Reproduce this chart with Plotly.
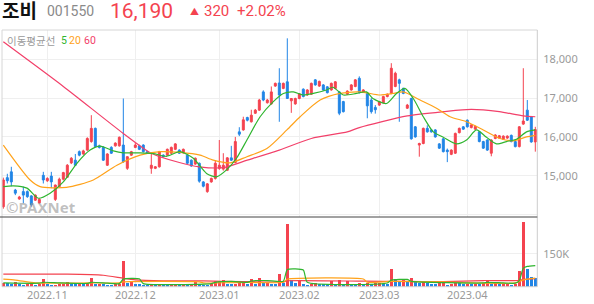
import plotly.graph_objects as go

# ---------------- data ----------------
opens = [14200, 14950, 15100, 14630, 14400, 14590, 14590, 14480, 14370, 14300,
         15010, 14870, 14990, 14390, 14720, 14910, 14960, 15330, 15400, 15620,
         15560, 15660, 15880, 16220, 15770, 15730, 15270, 15730, 15770, 15770,
         15790, 15190, 15530, 15730, 15770, 15790, 15620, 15190, 15190, 15230,
         15530, 15530, 15580, 15680, 15660, 15590, 15530, 15400, 15300, 15320,
         14840, 14590, 14840, 14930, 15190, 15170, 15140, 15460, 15340, 16130,
         16180, 16500, 16390, 16610, 16690, 17160, 16880, 16850, 17310, 17390,
         17250, 17420, 16930, 16850, 16990, 17230, 17080, 17100, 17470, 17310,
         17340, 17290, 17210, 17250, 17160, 16910, 17100, 17210, 17300, 17510,
         17150, 17120, 16950, 16760, 16820, 16880, 17040, 17120, 17300, 17470,
         17250, 16740, 16990, 16260, 15790, 15830, 16220, 16180, 16180, 15820,
         15950, 15660, 15550, 15580, 16110, 16260, 16430, 16240, 16200, 16130,
         15880, 15920, 15580, 15960, 15970, 15940, 15970, 16040, 15880, 15750,
         16330, 16690, 16520, 15870]
highs = [14950, 15050, 15230, 14660, 14480, 14720, 14620, 14500, 14520, 14420,
         15100, 14960, 15100, 14770, 14950, 15100, 15300, 15480, 15560, 15650,
         15670, 15990, 16560, 16240, 15800, 15760, 15580, 15760, 15860, 16010,
         16990, 15500, 15640, 15840, 15800, 15810, 15640, 15580, 15250, 15640,
         15550, 15700, 15750, 15840, 15680, 15700, 15550, 15420, 15470, 15340,
         14860, 14810, 14950, 15400, 15920, 15580, 15480, 15770, 16000, 16250,
         16520, 16520, 16700, 16720, 16980, 17200, 16980, 17300, 17400, 17770,
         17400, 18540, 17000, 17010, 17130, 17250, 17230, 17400, 17490, 17450,
         17360, 17310, 17400, 17440, 17180, 16930, 17200, 17360, 17490, 17560,
         17230, 17140, 17000, 16820, 16930, 17060, 17120, 17900, 17680, 17500,
         17270, 16850, 17010, 16280, 15850, 16240, 16300, 16200, 16200, 15840,
         15970, 15700, 15680, 16110, 16240, 16280, 16450, 16330, 16290, 16150,
         15900, 15940, 15940, 16070, 16050, 16040, 16040, 16060, 15900, 16280,
         17770, 16950, 16540, 16260]
lows = [14150, 14800, 14730, 14500, 14380, 14290, 14430, 14200, 14350, 14280,
        14800, 14840, 14680, 14350, 14700, 14880, 14940, 15300, 15250, 15500,
        15540, 15640, 15850, 15730, 15700, 15380, 15250, 15560, 15750, 15750,
        15330, 15150, 15510, 15710, 15660, 15600, 15560, 15050, 15170, 15210,
        15470, 15510, 15560, 15660, 15560, 15570, 15300, 15230, 15280, 14820,
        14700, 14560, 14820, 14900, 15150, 15130, 15120, 15380, 15320, 16020,
        16160, 16400, 16370, 16590, 16670, 16920, 16860, 16830, 17290, 16390,
        17230, 16990, 16620, 16830, 16970, 17020, 17060, 17080, 17320, 17290,
        17190, 17120, 17190, 17230, 16560, 16630, 17080, 17190, 17280, 17120,
        17130, 16480, 16600, 16600, 16800, 16860, 17020, 17100, 17280, 16390,
        17100, 16720, 15930, 15980, 15490, 15810, 16110, 16110, 15980, 15690,
        15600, 15350, 15530, 15560, 16090, 16180, 16240, 16220, 16180, 15860,
        15690, 15640, 15500, 15940, 15950, 15920, 15950, 15860, 15730, 15730,
        16310, 16410, 15850, 15620]
closes = [14890, 14870, 14840, 14550, 14450, 14500, 14460, 14250, 14500, 14390,
          14890, 14930, 14840, 14760, 14910, 15080, 15270, 15450, 15270, 15530,
          15640, 15960, 16220, 15750, 15730, 15400, 15560, 15580, 15840, 15990,
          15360, 15490, 15620, 15790, 15680, 15620, 15580, 15270, 15230, 15620,
          15490, 15680, 15730, 15820, 15580, 15680, 15320, 15250, 15450, 14860,
          14730, 14790, 14930, 15320, 15270, 15270, 15460, 15400, 15880, 16070,
          16440, 16430, 16560, 16690, 16950, 16950, 16950, 17160, 17380, 17080,
          17380, 16990, 16990, 16990, 17110, 17040, 17210, 17380, 17340, 17430,
          17210, 17140, 17380, 17420, 16610, 16650, 17180, 17340, 17470, 17140,
          17210, 16800, 16650, 16700, 16910, 17040, 17100, 17770, 17640, 17380,
          17120, 16820, 15950, 16000, 15830, 16220, 16130, 16130, 16000, 15710,
          15620, 15620, 15660, 16090, 16220, 16200, 16260, 16310, 16270, 15880,
          15710, 15660, 15920, 16050, 16030, 16020, 16020, 15880, 15750, 16260,
          16410, 16430, 15870, 16190]
volumes = [20000, 18000, 16000, 22000, 14000, 12000, 13000, 15000, 12000, 13000,
           37000, 13000, 12000, 12000, 13000, 14000, 23000, 14000, 13000, 14000,
           13000, 14000, 41000, 14000, 15000, 14000, 12000, 11000, 13000, 14000,
           118000, 17000, 23000, 14000, 13000, 12000, 11000, 12000, 11000, 13000,
           12000, 11000, 12000, 13000, 11000, 12000, 11000, 12000, 23000, 14000,
           12000, 11000, 13000, 26000, 28000, 31000, 15000, 14000, 16000, 17000,
           26000, 15000, 35000, 16000, 44000, 18000, 20000, 16000, 15000, 58000,
           18000, 288000, 31000, 18000, 26000, 14000, 10000, 15000, 17000, 16000,
           15000, 13000, 26000, 14000, 31000, 16000, 26000, 15000, 13000, 17000,
           16000, 18000, 16000, 17000, 18000, 16000, 15000, 84000, 35000, 27000,
           33000, 25000, 40000, 22000, 20000, 24000, 18000, 16000, 15000, 17000,
           18000, 12000, 15000, 18000, 17000, 14000, 16000, 15000, 16000, 15000,
           17000, 31000, 16000, 18000, 14000, 15000, 16000, 12000, 15000, 72000,
           294000, 81000, 45000, 41000]

month_idx = [11, 33, 54, 74, 94, 116]
month_labels = ['2022.11', '2022.12', '2023.01', '2023.02', '2023.03', '2023.04']

price_ticks = [14000, 15000, 16000, 17000, 18000]
price_tick_text = ['', '15,000', '16,000', '17,000', '18,000']
vol_ticks = [150000]
vol_tick_text = ['150K']

ma5_i = [0, 2.5, 5.9, 8.75, 11.7, 15, 18.4, 21.7, 24.2, 27.5, 30, 34.2, 37.5, 40.8, 44.2,
         47.5, 50.8, 53.3, 55.8, 58.3, 60.9, 64.2, 67.5, 70, 72.5, 75, 77.5, 80.8, 82.4,
         85, 88.3, 90.8, 92.4, 95.8, 98.3, 100.4, 102.5, 105, 107.5, 110, 113.3, 115.8,
         118.3, 120.8, 123.3, 125.8, 128.3, 130.8, 133]
ma5_v = [14720, 14740, 14680, 14420, 14550, 14840, 15320, 15660, 15760, 15640, 15590, 15590,
         15570, 15500, 15620, 15450, 15060, 14970, 15150, 15450, 15920, 16520, 16910, 17120,
         17160, 17080, 17120, 17210, 17280, 17080, 17120, 17160, 16990, 16860, 17120, 17250,
         16990, 16520, 16130, 15990, 15820, 15920, 16180, 15990, 15820, 15880, 15940, 16130,
         16180]
ma20_i = [0, 6.7, 9.2, 15.8, 22.5, 28.4, 34.2, 39.2, 44.2, 49.2, 52.5, 56.7, 60.9, 65.9,
          70.9, 74.2, 79.2, 84.2, 89.2, 94.2, 97.4, 100, 104.2, 108.3, 111.7, 115.8, 120,
          124.2, 127.5, 130.8, 133]
ma20_v = [15790, 14890, 14720, 14700, 14890, 15270, 15530, 15620, 15600, 15530, 15400,
          15330, 15490, 15700, 16180, 16520, 16950, 17120, 17160, 17080, 17120, 17160,
          16950, 16740, 16520, 16390, 16180, 15960, 15900, 16000, 16040]
ma60_i = [0, 15, 30, 37, 44, 49, 55, 61, 69, 77, 86, 89, 101, 110, 117, 124, 130, 133]
ma60_v = [18450, 17300, 16090, 15580, 15340, 15230, 15210, 15400, 15660, 15960, 16130,
          16240, 16540, 16650, 16710, 16650, 16540, 16520]

vma5_i = [0, 9, 10, 14, 21, 22, 26, 29, 30, 34, 35, 52, 53, 57, 61, 62, 66, 70, 71, 75, 76,
          96, 97, 101, 102, 120, 121, 125, 128, 129, 130, 131, 133]
vma5_v = [17000, 16000, 20000, 17000, 15000, 20000, 16000, 14000, 35000, 36000, 14000,
          14000, 20000, 24000, 20000, 26000, 28000, 25000, 78000, 76000, 20000, 17000,
          30000, 33000, 24000, 17000, 20000, 17000, 16000, 28000, 84000, 92000, 96000]
vma20_i = [0, 3, 8, 15, 22, 29, 30, 49, 50, 55, 62, 70, 71, 90, 91, 97, 110, 117, 128, 130, 133]
vma20_v = [34000, 30000, 17000, 16000, 17000, 17000, 22000, 22000, 17000, 18000, 19000,
           20000, 34000, 35000, 20000, 24000, 22000, 17000, 17000, 31000, 39000]
vma60_i = [0, 16, 25, 30, 33, 40, 50, 60, 70, 71, 90, 100, 110, 120, 129, 130, 133]
vma60_v = [57000, 57000, 52000, 38000, 31000, 27000, 26000, 23000, 22000, 27000, 25000,
           24000, 23000, 28000, 28000, 33000, 36000]

# ---------------- styling ----------------
RED = '#f4434f'
BLUE = '#2185e6'
GREEN = '#2fb52f'
ORANGE = '#ffa21a'
PINK = '#f2406a'
GRID = '#efefef'
TXT = '#9a9a9a'

W, H = 594, 304
x0p, x1p = 2 / W, 537.3 / W
price_dom = [(H - 217) / H, (H - 30) / H]
vol_dom = [(H - 286.7) / H, (H - 219.5) / H]

n = len(closes)
xs = list(range(n))
vol_colors = [RED if (i == 0 or volumes[i] >= volumes[i - 1]) else BLUE for i in range(n)]

fig = go.Figure()

fig.add_trace(go.Candlestick(
    x=xs, open=opens, high=highs, low=lows, close=closes,
    increasing=dict(line=dict(color=RED, width=1), fillcolor=RED),
    decreasing=dict(line=dict(color=BLUE, width=1), fillcolor=BLUE),
    whiskerwidth=0, xaxis='x', yaxis='y', showlegend=False, hoverinfo='skip'))

for xi, yv, col in [(ma60_i, ma60_v, PINK), (ma20_i, ma20_v, ORANGE), (ma5_i, ma5_v, GREEN)]:
    fig.add_trace(go.Scatter(x=xi, y=yv, mode='lines',
                             line=dict(color=col, width=1.2, shape='spline', smoothing=0.7),
                             xaxis='x', yaxis='y', showlegend=False, hoverinfo='skip'))

fig.add_trace(go.Bar(x=xs, y=volumes, marker=dict(color=vol_colors, line=dict(width=0)),
                     width=0.75, xaxis='x2', yaxis='y2', showlegend=False, hoverinfo='skip'))

for xi, yv, col in [(vma60_i, vma60_v, RED), (vma20_i, vma20_v, ORANGE), (vma5_i, vma5_v, GREEN)]:
    fig.add_trace(go.Scatter(x=xi, y=yv, mode='lines',
                             line=dict(color=col, width=1.2, shape='spline', smoothing=0.5),
                             xaxis='x2', yaxis='y2', showlegend=False, hoverinfo='skip'))

xr = [-0.33, 133.5]
common_x = dict(range=xr, domain=[x0p, x1p], tickmode='array', tickvals=month_idx,
                showgrid=True, gridcolor=GRID, gridwidth=1, zeroline=False,
                showline=False, fixedrange=True, rangeslider=dict(visible=False))

fig.update_layout(
    width=W, height=H, margin=dict(l=0, r=0, t=0, b=0),
    paper_bgcolor='white', plot_bgcolor='white', bargap=0,
    font=dict(family='Noto Sans, Noto Sans CJK KR', color=TXT, size=11),
    xaxis=dict(**common_x, anchor='y', showticklabels=False, ticktext=month_labels),
    xaxis2=dict(**common_x, anchor='y2', showticklabels=True, ticktext=month_labels,
                ticks='', tickfont=dict(size=11, color=TXT)),
    yaxis=dict(domain=price_dom, range=[13936, 18755], side='right', anchor='x',
               tickmode='array', tickvals=price_ticks, ticktext=price_tick_text,
               showgrid=True, gridcolor=GRID, zeroline=False, ticks='',
               ticklabelstandoff=5, tickfont=dict(size=11, color=TXT), fixedrange=True),
    yaxis2=dict(domain=vol_dom, range=[0, 305000], side='right', anchor='x2',
                tickmode='array', tickvals=vol_ticks, ticktext=vol_tick_text,
                showgrid=True, gridcolor=GRID, zeroline=False, ticks='',
                ticklabelstandoff=5, tickfont=dict(size=11, color=TXT), fixedrange=True),
)

# frame lines
line_light = dict(color='#d6d6d6', width=1)
fig.add_shape(type='line', xref='paper', yref='paper', x0=x0p, x1=x1p,
              y0=price_dom[1], y1=price_dom[1], line=line_light)
fig.add_shape(type='line', xref='paper', yref='paper', x0=x0p, x1=x0p,
              y0=vol_dom[0], y1=price_dom[1], line=line_light)
fig.add_shape(type='line', xref='paper', yref='paper', x0=x1p, x1=x1p,
              y0=vol_dom[0], y1=price_dom[1], line=dict(color='#cccccc', width=1))
fig.add_shape(type='line', xref='paper', yref='paper', x0=0, x1=x1p,
              y0=price_dom[0], y1=price_dom[0], line=dict(color='#444444', width=1))
fig.add_shape(type='line', xref='paper', yref='paper', x0=x0p, x1=x1p,
              y0=vol_dom[0], y1=vol_dom[0], line=dict(color='#d0d0d0', width=1))

# watermark
fig.add_annotation(text='©PAXNet', xref='paper', yref='paper', x=4 / W, y=(H - 207) / H,
                   xanchor='left', yanchor='middle', showarrow=False,
                   font=dict(family='Noto Sans', size=15, color='rgba(150,150,150,0.6)', weight='bold'))

# header
def hdr(text, x, y, size, color, bold=False, family='Roboto, Noto Sans CJK KR'):
    fig.add_annotation(text=text, xref='paper', yref='paper', x=x / W, y=(H - y) / H,
                       xanchor='left', yanchor='middle', showarrow=False,
                       font=dict(family=family, size=size, color=color,
                                 weight='bold' if bold else 'normal'))

hdr('조비', 0, 11.5, 19, '#111111', bold=True, family='Roboto, Noto Sans CJK KR')
hdr('001550', 45, 11.5, 14, '#8a8a8a')
hdr('16,190', 108, 11, 21, RED)
hdr('▲', 188, 11.5, 9, RED, family='Noto Sans CJK KR')
hdr('320', 202, 11.5, 15, RED)
hdr('+2.02%', 235, 11.5, 15, RED)

# MA legend
hdr('이동평균선', 5, 41, 10.5, '#9a9a9a', family='Noto Sans CJK KR')
hdr('5', 59, 41, 10.5, GREEN)
hdr('20', 67, 41, 10.5, ORANGE)
hdr('60', 82, 41, 10.5, PINK)

fig.write_html('out.html')
